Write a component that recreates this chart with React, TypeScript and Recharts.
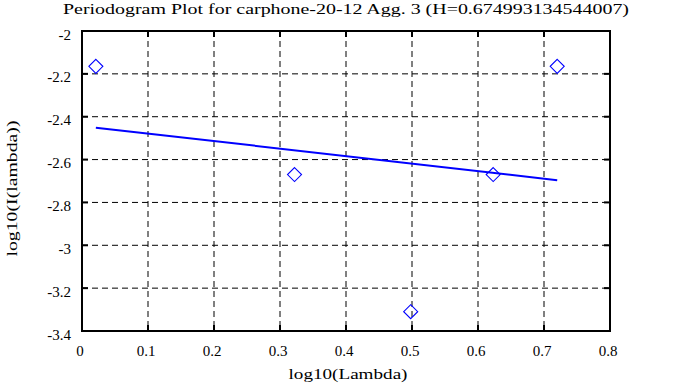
import React from "react";
import {
  ComposedChart,
  XAxis,
  YAxis,
  CartesianGrid,
  Scatter,
  Line,
  Customized,
} from "recharts";

const pointX = [0.021, 0.322, 0.498, 0.623, 0.72];
const pointY = [-2.165, -2.67, -3.31, -2.67, -2.165];
const fitX = [0.021, 0.72];
const fitY = [-2.451, -2.696];
const xTicks = [0, 0.1, 0.2, 0.3, 0.4, 0.5, 0.6, 0.7, 0.8];
const yTicks = [-3.4, -3.2, -3, -2.8, -2.6, -2.4, -2.2, -2];
const titleText = "Periodogram Plot for carphone-20-12 Agg. 3 (H=0.674993134544007)";
const xLabelText = "log10(Lambda)";
const yLabelText = "log10(I(lambda))";

const points = pointX.map((x, i) => ({ x, y: pointY[i] }));
const fit = fitX.map((x, i) => ({ x, y: fitY[i] }));

const FONT = "'Liberation Serif', 'DejaVu Serif', serif";
const BLUE = "#0000ff";
const TICK_LEN = 6;
const textStyle = { fontFamily: FONT, fontSize: 15, fill: "#000" };

const BottomTick = (props: any) => {
  const { x, y, payload } = props;
  return (
    <g>
      <line x1={x} x2={x} y1={y} y2={y - TICK_LEN} stroke="#000" strokeWidth={2} />
      <text x={x - 2} y={y + 24.5} textAnchor="middle" style={textStyle}>
        {String(payload.value)}
      </text>
    </g>
  );
};

const TopTick = (props: any) => {
  const { x, y } = props;
  return <line x1={x} x2={x} y1={y} y2={y + TICK_LEN} stroke="#000" strokeWidth={2} />;
};

const LeftTick = (props: any) => {
  const { x, y, payload } = props;
  return (
    <g>
      <line x1={x} x2={x + TICK_LEN} y1={y} y2={y} stroke="#000" strokeWidth={2} />
      <text x={x - 11} y={y + 8.5} textAnchor="end" style={textStyle}>
        {String(payload.value)}
      </text>
    </g>
  );
};

const RightTick = (props: any) => {
  const { x, y } = props;
  return <line x1={x} x2={x - TICK_LEN} y1={y} y2={y} stroke="#000" strokeWidth={2} />;
};

const Diamond = (props: any) => {
  const { cx, cy } = props;
  const r = 7;
  return (
    <path
      d={`M${cx},${cy - r}L${cx + r},${cy}L${cx},${cy + r}L${cx - r},${cy}Z`}
      fill="none"
      stroke={BLUE}
      strokeWidth={1.1}
    />
  );
};

const Texts = () => (
  <g>
    <text
      x={346}
      y={14}
      textAnchor="middle"
      style={textStyle}
      textLength={566}
      lengthAdjust="spacingAndGlyphs"
    >
      {titleText}
    </text>
    <text
      x={348}
      y={378.5}
      textAnchor="middle"
      style={textStyle}
      textLength={119}
      lengthAdjust="spacingAndGlyphs"
    >
      {xLabelText}
    </text>
    <text
      x={17}
      y={188.5}
      textAnchor="middle"
      style={textStyle}
      textLength={136}
      lengthAdjust="spacingAndGlyphs"
      transform="rotate(-90, 17, 188.5)"
    >
      {yLabelText}
    </text>
  </g>
);

const axisLineStyle = { stroke: "#000", strokeWidth: 2, strokeLinecap: "square" as const };

export default function App() {
  return (
    <div style={{ position: "absolute", left: 0, top: 0, width: 673, height: 387, background: "#fff" }}>
      <ComposedChart
        width={673}
        height={387}
        margin={{ top: 21, right: 53, bottom: 16, left: 22 }}
      >
        <CartesianGrid stroke="#000" strokeDasharray="6 4" strokeWidth={1} />
        <XAxis
          xAxisId={0}
          type="number"
          dataKey="x"
          domain={[0, 0.8]}
          ticks={xTicks}
          allowDataOverflow
          orientation="bottom"
          height={40}
          tickSize={0}
          tickMargin={0}
          tickLine={false}
          axisLine={axisLineStyle}
          tick={<BottomTick />}
          interval={0}
        />
        <XAxis
          xAxisId="top"
          type="number"
          dataKey="x"
          domain={[0, 0.8]}
          ticks={xTicks}
          allowDataOverflow
          orientation="top"
          height={10}
          tickSize={0}
          tickMargin={0}
          tickLine={false}
          axisLine={axisLineStyle}
          tick={<TopTick />}
          interval={0}
        />
        <YAxis
          yAxisId={0}
          type="number"
          dataKey="y"
          domain={[-3.4, -2]}
          ticks={yTicks}
          allowDataOverflow
          orientation="left"
          width={60}
          tickSize={0}
          tickMargin={0}
          tickLine={false}
          axisLine={axisLineStyle}
          tick={<LeftTick />}
          interval={0}
        />
        <YAxis
          yAxisId="right"
          type="number"
          dataKey="y"
          domain={[-3.4, -2]}
          ticks={yTicks}
          allowDataOverflow
          orientation="right"
          width={10}
          tickSize={0}
          tickMargin={0}
          tickLine={false}
          axisLine={axisLineStyle}
          tick={<RightTick />}
          interval={0}
        />
        <Line
          data={fit}
          dataKey="y"
          xAxisId={0}
          yAxisId={0}
          type="linear"
          stroke={BLUE}
          strokeWidth={2}
          dot={false}
          activeDot={false}
          isAnimationActive={false}
        />
        <Scatter
          data={points}
          dataKey="y"
          xAxisId={0}
          yAxisId={0}
          shape={<Diamond />}
          isAnimationActive={false}
        />
        <Customized component={Texts} />
      </ComposedChart>
    </div>
  );
}
